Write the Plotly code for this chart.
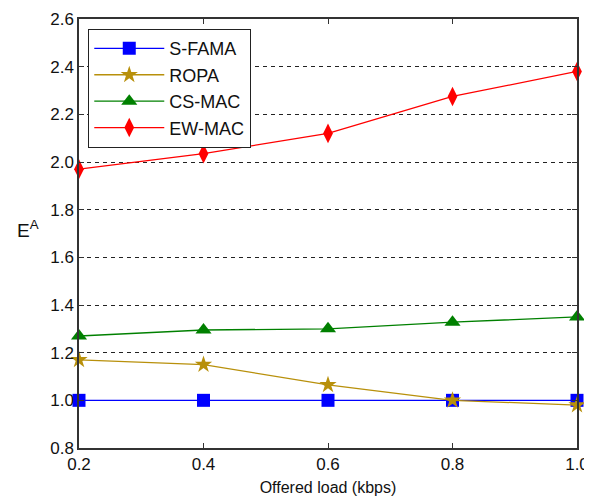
import plotly.graph_objects as go

x_load = [0.2, 0.4, 0.6, 0.8, 1.0]
s_fama = [1.0, 1.0, 1.0, 1.0, 1.0]
ropa = [1.17, 1.15, 1.065, 1.0, 0.98]
cs_mac = [1.27, 1.295, 1.30, 1.328, 1.35]
ew_mac = [1.97, 2.035, 2.12, 2.275, 2.38]
y_ticks = [0.8, 1.0, 1.2, 1.4, 1.6, 1.8, 2.0, 2.2, 2.4, 2.6]
x_ticks = [0.2, 0.4, 0.6, 0.8, 1.0]

series = [
    ("S-FAMA", s_fama, "#0000ff", "square", 13),
    ("ROPA", ropa, "#b8900b", "star", 13),
    ("CS-MAC", cs_mac, "#008000", "triangle-up", 14),
    ("EW-MAC", ew_mac, "#ff0000", "diamond-tall", 14),
]

FAM = "Liberation Sans, Arial, sans-serif"

fig = go.Figure()
for name, vals, color, sym, size in series:
    fig.add_trace(go.Scatter(
        x=x_load, y=vals, name=name, mode="lines+markers",
        line=dict(color=color, width=1.3),
        marker=dict(symbol=sym, size=size, color=color, line=dict(width=0)),
        cliponaxis=False,
    ))

# page body has an 8px margin, so the figure is 8px smaller than the window
fig.update_layout(
    width=584, height=490,
    margin=dict(l=71, r=15, t=11, b=50),
    paper_bgcolor="white", plot_bgcolor="white",
    font=dict(family=FAM, size=17, color="#111111"),
    showlegend=True,
    legend=dict(
        x=0.018, y=0.977, xanchor="left", yanchor="top",
        bgcolor="white", bordercolor="#222222", borderwidth=1.3,
        font=dict(family=FAM, size=18, color="#111111"),
        tracegroupgap=0, itemwidth=70,
    ),
    xaxis=dict(
        range=[0.2, 1.0], tickvals=x_ticks, ticktext=["0.2", "0.4", "0.6", "0.8", "1.0"],
        showgrid=False, zeroline=False, automargin=False,
        showline=True, linecolor="#333333", linewidth=1.5, mirror="allticks",
        ticks="inside", ticklen=5, tickcolor="#333333",
        tickfont=dict(size=17),
        title=dict(text="Offered load (kbps)", font=dict(size=16), standoff=9),
    ),
    yaxis=dict(
        range=[0.8, 2.6], tickvals=y_ticks, ticktext=[f"{v:.1f}" for v in y_ticks],
        showgrid=True, gridcolor="#222222", griddash="4px,4px", gridwidth=1,
        zeroline=False, automargin=False,
        showline=True, linecolor="#333333", linewidth=1.5, mirror="allticks",
        ticks="inside", ticklen=5, tickcolor="#333333",
        tickfont=dict(size=17),
    ),
    annotations=[dict(
        text="E<sup>A</sup>", xref="paper", yref="paper", x=-0.077, y=0.51,
        xanchor="right", yanchor="middle", showarrow=False,
        font=dict(family=FAM, size=19, color="#111111"),
    )],
)

fig.write_html("out.html")
